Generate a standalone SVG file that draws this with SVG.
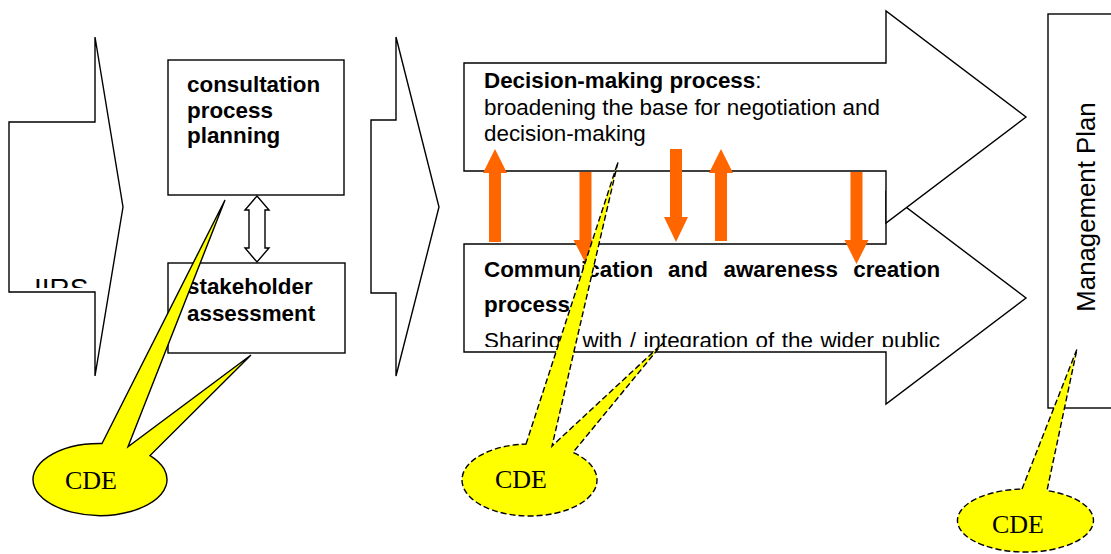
<svg xmlns="http://www.w3.org/2000/svg" width="1111" height="554" viewBox="0 0 1111 554">
<style>
.shape{fill:#fff;stroke:#000;stroke-width:1.4}
.b{font-family:"Liberation Sans",Arial,sans-serif;font-size:22.4px;font-weight:bold;fill:#000}
.r{font-family:"Liberation Sans",Arial,sans-serif;font-size:22.4px;font-weight:normal;fill:#000}
.orange{fill:#FF6600;stroke:none}
.callout{fill:#FFFF00;stroke:#000;stroke-width:1.4}
.dashed{stroke-dasharray:6 3}
.cde{font-family:"Liberation Serif","Times New Roman",serif;font-size:26px;fill:#000}
</style>
<defs>
<clipPath id="clipIIRS"><rect x="9" y="122" width="90" height="166"/></clipPath>
<clipPath id="clipComm"><rect x="464" y="244" width="480" height="103"/></clipPath>
</defs>
<rect width="1111" height="554" fill="#fff"/>
<g id="iirs">
<polygon class="shape" points="9,122 95,122 95,37 123,207 95,376 95,292 9,292"/>
<text class="r" x="34" y="298" style="font-size:28px" clip-path="url(#clipIIRS)">IIRS</text>
</g>
<g id="planning">
<rect class="shape" x="168" y="60" width="176" height="135"/>
<text class="b" x="187" y="92">consultation</text>
<text class="b" x="187" y="117.5">process</text>
<text class="b" x="187" y="143">planning</text>
</g>
<g id="stakeholder">
<rect class="shape" x="168" y="263" width="177" height="90"/>
<text class="b" x="187" y="294">stakeholder</text>
<text class="b" x="187" y="320.5">assessment</text>
</g>
<g id="stage">
<polygon class="shape" points="371,120 396,120 396,37 439,207 396,376 396,293 371,293"/>
</g>
<g id="communication">
<polygon class="shape" points="464,244 886,244 886,192 1026,298 886,404 886,352 464,352"/>
<text class="b"><tspan x="484" y="277">Communication</tspan><tspan x="668" y="277">and</tspan><tspan x="723.5" y="277">awareness</tspan><tspan x="853.2" y="277">creation</tspan></text>
<text class="b" x="484" y="312">process</text>
<text class="r" x="484" y="347.5" style="word-spacing:1.3px" clip-path="url(#clipComm)">Sharing / with / integration of the wider public</text>
</g>
<g id="decision">
<polygon class="shape" points="464,63 886,63 886,11 1026,117 886,223 886,171 464,171"/>
<text class="b" x="484" y="88">Decision-making process<tspan class="r">:</tspan></text>
<text class="r" x="484" y="115">broadening the base for negotiation and</text>
<text class="r" x="484" y="141">decision-making</text>
</g>
<g id="management">
<rect class="shape" x="1048" y="14" width="80" height="394"/>
<text class="r" style="font-size:25.8px" transform="translate(1095,207) rotate(-90)" text-anchor="middle">Management Plan</text>
</g>
<g id="connectors">
<polygon class="shape" points="257,196 269,210 265,210 265,248 269,248 257,262 245,248 249,248 249,210 245,210"/>
<polygon class="orange" points="495,149 507,173 501,173 501,242 489,242 489,173 483,173"/>
<polygon class="orange" points="579.5,172 591.5,172 591.5,240 597.5,240 585.5,263 573.5,240 579.5,240"/>
<polygon class="orange" points="670,149 682,149 682,217 688,217 676,242 664,217 670,217"/>
<polygon class="orange" points="721,149 733,173 727,173 727,241 715,241 715,173 709,173"/>
<polygon class="orange" points="850.5,172 862.5,172 862.5,240 868.5,240 856.5,264 844.5,240 850.5,240"/>
</g>
<g id="cde1">
<path class="callout" d="M102,443.52 L225,200 L128,446.8 L251,355 L150,455.54 A67,36 0 1,1 102,443.52 Z"/>
<text class="cde" x="65" y="489">CDE</text>
</g>
<g id="cde2">
<path class="callout dashed" d="M526,444.05 L618,162 L552,446.06 L663,343 L573,452.47 A67.5,36 0 1,1 526,444.05 Z"/>
<text class="cde" x="495" y="488">CDE</text>
</g>
<g id="cde3">
<path class="callout dashed" d="M1022,489.04 L1077,349 L1047,490.62 A68,31.5 0 1,1 1022,489.04 Z"/>
<text class="cde" x="992" y="533">CDE</text>
</g>
</svg>
